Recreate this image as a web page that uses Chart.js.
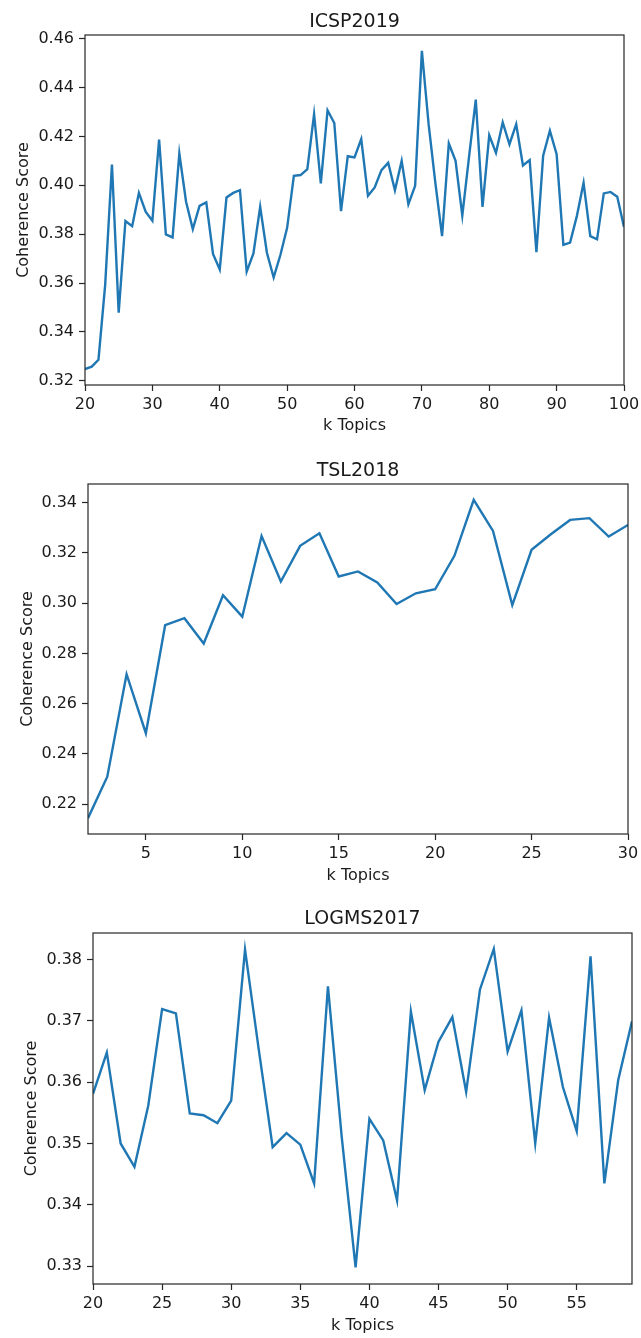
<!DOCTYPE html>
<html>
<head>
<meta charset="utf-8">
<title>Coherence Score vs k Topics</title>
<script src="https://cdn.jsdelivr.net/npm/chart.js@4.4.0/dist/chart.umd.min.js"></script>
<style>
  body { margin: 0; background: #fff; }
  #wrap { position: relative; width: 641px; height: 1338px; }
  canvas { position: absolute; left: 0; }
</style>
</head>
<body>
<div id="wrap">
  <canvas id="icsp" width="641" height="440" style="top:0px"></canvas>
  <canvas id="tsl" width="641" height="453" style="top:440px"></canvas>
  <canvas id="logms" width="641" height="445" style="top:893px"></canvas>
</div>
<script>
// ICSP2019
var icspK = [20, 21, 22, 23, 24, 25, 26, 27, 28, 29, 30, 31, 32, 33, 34, 35, 36, 37, 38, 39,
    40, 41, 42, 43, 44, 45, 46, 47, 48, 49, 50, 51, 52, 53, 54, 55, 56, 57, 58, 59,
    60, 61, 62, 63, 64, 65, 66, 67, 68, 69, 70, 71, 72, 73, 74, 75, 76, 77, 78, 79,
    80, 81, 82, 83, 84, 85, 86, 87, 88, 89, 90, 91, 92, 93, 94, 95, 96, 97, 98, 99, 100];
var icspScore = [0.3248, 0.3258, 0.3286, 0.3595, 0.4085, 0.3479, 0.3854, 0.3833, 0.3969, 0.3892,
    0.3855, 0.4187, 0.3799, 0.3787, 0.4130, 0.3933, 0.3821, 0.3916, 0.3930, 0.3719,
    0.3656, 0.3950, 0.3969, 0.3980, 0.3647, 0.3721, 0.3912, 0.3724, 0.3623, 0.3715,
    0.3826, 0.4039, 0.4042, 0.4066, 0.4291, 0.4008, 0.4307, 0.4255, 0.3894, 0.4119,
    0.4114, 0.4189, 0.3957, 0.3991, 0.4062, 0.4092, 0.3980, 0.4100, 0.3923, 0.3998,
    0.4550, 0.4250, 0.4010, 0.3792, 0.4171, 0.4100, 0.3876, 0.4116, 0.4351, 0.3912,
    0.4205, 0.4133, 0.4257, 0.4168, 0.4250, 0.4081, 0.4103, 0.3726, 0.4121, 0.4223,
    0.4127, 0.3756, 0.3766, 0.3874, 0.4010, 0.3792, 0.3779, 0.3967, 0.3973, 0.3953, 0.3830];
var icspXTicks = [20, 30, 40, 50, 60, 70, 80, 90, 100];
var icspYTicks = [0.32, 0.34, 0.36, 0.38, 0.40, 0.42, 0.44, 0.46];

// TSL2018
var tslK = [2, 3, 4, 5, 6, 7, 8, 9, 10, 11, 12, 13, 14, 15, 16, 17, 18, 19, 20,
    21, 22, 23, 24, 25, 26, 27, 28, 29, 30];
var tslScore = [0.2144, 0.2309, 0.2717, 0.2482, 0.2912, 0.2940, 0.2839, 0.3031, 0.2946, 0.3267,
    0.3086, 0.3228, 0.3278, 0.3106, 0.3126, 0.3082, 0.2996, 0.3039, 0.3055, 0.3188,
    0.3411, 0.3287, 0.2992, 0.3212, 0.3274, 0.3331, 0.3338, 0.3265, 0.3311];
var tslXTicks = [5, 10, 15, 20, 25, 30];
var tslYTicks = [0.22, 0.24, 0.26, 0.28, 0.30, 0.32, 0.34];

// LOGMS2017
var logmsK = [20, 21, 22, 23, 24, 25, 26, 27, 28, 29, 30, 31, 32, 33, 34, 35, 36, 37, 38, 39,
    40, 41, 42, 43, 44, 45, 46, 47, 48, 49, 50, 51, 52, 53, 54, 55, 56, 57, 58, 59];
var logmsScore = [0.3581, 0.3648, 0.3500, 0.3462, 0.3562, 0.3719, 0.3712, 0.3549, 0.3546, 0.3533,
    0.3570, 0.3816, 0.3652, 0.3494, 0.3517, 0.3498, 0.3435, 0.3756, 0.3510, 0.3298,
    0.3540, 0.3505, 0.3407, 0.3715, 0.3587, 0.3666, 0.3706, 0.3584, 0.3751, 0.3817,
    0.3650, 0.3717, 0.3500, 0.3705, 0.3592, 0.3520, 0.3805, 0.3435, 0.3603, 0.3699];
var logmsXTicks = [20, 25, 30, 35, 40, 45, 50, 55];
var logmsYTicks = [0.33, 0.34, 0.35, 0.36, 0.37, 0.38];

Chart.defaults.font.family = '"DejaVu Sans", sans-serif';
Chart.defaults.color = '#1a1a1a';

var INK = '#262626';

// matplotlib-like box around the plot + title centred over the plot area
var framePlugin = {
    id: 'frame',
    afterDraw: function (chart, args, opts) {
        var ctx = chart.ctx;
        var a = chart.chartArea;
        ctx.save();
        ctx.strokeStyle = INK;
        ctx.lineWidth = 1.2;
        ctx.strokeRect(a.left, a.top, a.right - a.left, a.bottom - a.top);
        ctx.fillStyle = '#1a1a1a';
        ctx.font = '19px "DejaVu Sans"';
        ctx.textAlign = 'center';
        ctx.textBaseline = 'alphabetic';
        ctx.fillText(opts.text, (a.left + a.right) / 2, opts.baseline);
        ctx.restore();
    }
};

function makeChart(id, title, ks, scores, xTicks, yTicks, box) {
    var h = document.getElementById(id).height;
    var points = ks.map(function (k, i) { return { x: k, y: scores[i] }; });
    return new Chart(document.getElementById(id).getContext('2d'), {
        type: 'line',
        data: {
            datasets: [{
                data: points,
                borderColor: '#1f77b4',
                borderWidth: 2.4,
                pointRadius: 0,
                tension: 0,
                fill: false
            }]
        },
        options: {
            responsive: false,
            animation: false,
            layout: { padding: { top: box.top, right: 641 - box.right, bottom: 0, left: 0 } },
            plugins: {
                legend: { display: false },
                tooltip: { enabled: false },
                frame: { text: title, baseline: box.titleBase }
            },
            scales: {
                x: {
                    type: 'linear',
                    min: box.xMin,
                    max: box.xMax,
                    afterBuildTicks: function (s) { s.ticks = xTicks.map(function (v) { return { value: v }; }); },
                    afterFit: function (s) {
                        s.height = h - box.bottom;
                        // labels may hang over the edges, like matplotlib
                        s.paddingLeft = 0;
                        s.paddingRight = 0;
                    },
                    border: { display: false },
                    grid: { drawOnChartArea: false, tickLength: 6, tickColor: INK, tickWidth: 1.2 },
                    ticks: { padding: 4, maxRotation: 0, autoSkip: false, font: { size: 16 },
                        callback: function (v) { return String(v); } },
                    title: { display: true, text: 'k Topics', font: { size: 16 },
                        padding: { top: 0, bottom: box.xTitlePad } }
                },
                y: {
                    min: box.yMin,
                    max: box.yMax,
                    afterBuildTicks: function (s) { s.ticks = yTicks.map(function (v) { return { value: v }; }); },
                    afterFit: function (s) {
                        s.width = box.left;
                        s.paddingTop = 0;
                        s.paddingBottom = 0;
                    },
                    border: { display: false },
                    grid: { drawOnChartArea: false, tickLength: 6, tickColor: INK, tickWidth: 1.2 },
                    ticks: { padding: 5, font: { size: 16 },
                        callback: function (v) { return v.toFixed(2); } },
                    title: { display: true, text: 'Coherence Score', font: { size: 16 },
                        padding: { top: box.yTitlePad, bottom: 0 } }
                }
            }
        },
        plugins: [framePlugin]
    });
}

window.onload = function () {
    makeChart('icsp', 'ICSP2019', icspK, icspScore, icspXTicks, icspYTicks, {
        left: 85, right: 624, top: 35, bottom: 385, titleBase: 27,
        xTitlePad: 5, yTitlePad: 14, xMin: 20, xMax: 100, yMin: 0.3183, yMax: 0.4615
    });
    makeChart('tsl', 'TSL2018', tslK, tslScore, tslXTicks, tslYTicks, {
        left: 88, right: 628, top: 44, bottom: 394, titleBase: 36,
        xTitlePad: 8, yTitlePad: 18, xMin: 2, xMax: 30, yMin: 0.2081, yMax: 0.3474
    });
    makeChart('logms', 'LOGMS2017', logmsK, logmsScore, logmsXTicks, logmsYTicks, {
        left: 93, right: 632, top: 40, bottom: 391, titleBase: 31,
        xTitlePad: 3, yTitlePad: 22, xMin: 20, xMax: 59, yMin: 0.3271, yMax: 0.3843
    });
};
</script>
</body>
</html>
